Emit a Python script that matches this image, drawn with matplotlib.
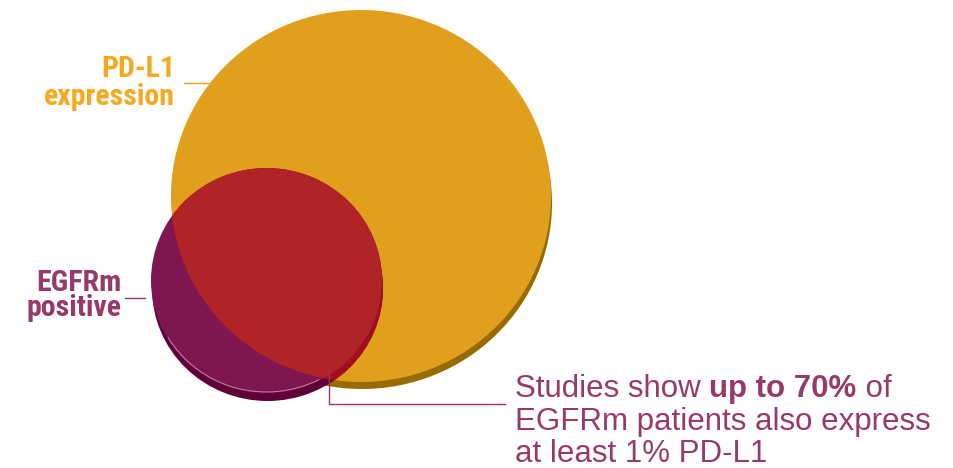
import matplotlib.pyplot as plt
from matplotlib.patches import Ellipse, Arc

# circle sizes / positions (pixel space, y downwards)
big = dict(x=361, y=196, w=380, h=372)
small = dict(x=266.5, y=280.5, w=231, h=225)

label_pdl1 = ['PD-L1', 'expression']
label_egfr = ['EGFRm', 'positive']
note_parts = [('Studies show ', 'normal'), ('up to 70%', 'bold'), (' of', 'normal')]
note_lines = ['EGFRm patients also express', 'at least 1% PD-L1']

orange = '#E09F1C'
orange_sh = '#976B00'
purple = '#7E1650'
purple_sh = '#600038'
red = '#B02427'
red_sh = '#A30C22'
txt_orange = '#F6A81E'
txt_purple = '#973A6B'

narrow = ['Roboto Condensed', 'DejaVu Sans']
sans = ['Liberation Sans', 'DejaVu Sans']

fig = plt.figure(figsize=(9.54, 4.68), dpi=100)
ax = fig.add_axes([0, 0, 1, 1])
ax.set_xlim(0, 954)
ax.set_ylim(468, 0)
ax.axis('off')

## BIG CIRCLE (PD-L1)
ax.add_patch(Ellipse((big['x'] + 1, big['y'] + 7), big['w'], big['h'], color=orange_sh, lw=0))
big_face = Ellipse((big['x'], big['y']), big['w'], big['h'], color=orange, lw=0)
ax.add_patch(big_face)

## SMALL CIRCLE (EGFRm) - shadow then face, red where it overlaps
sh = (small['x'] + 1, small['y'] + 8)
ax.add_patch(Ellipse(sh, small['w'], small['h'], color=purple_sh, lw=0))
p = Ellipse(sh, small['w'], small['h'], color=red_sh, lw=0)
ax.add_patch(p)
p.set_clip_path(big_face)

ax.add_patch(Ellipse((small['x'], small['y']), small['w'], small['h'], color=purple, lw=0))
p = Ellipse((small['x'], small['y']), small['w'], small['h'], color=red, lw=0)
ax.add_patch(p)
p.set_clip_path(big_face)

# faint highlight along the lower rim
ax.add_patch(Arc((small['x'], small['y']), small['w'] - 2, small['h'] - 2,
                 theta1=62, theta2=150, color='#D7A0BC', lw=0.7, alpha=0.8))

## LABELS
for i, s in enumerate(label_pdl1):
    ax.text(175, 77 + 28 * i, s, ha='right', va='baseline', fontsize=21.5,
            fontweight='bold', family=narrow, color=txt_orange)
ax.plot([184, 218], [83, 83], color='#F0A020', lw=1.0)

for i, s in enumerate(label_egfr):
    ax.text(122, 291 + 25 * i, s, ha='right', va='baseline', fontsize=21.5,
            fontweight='bold', family=narrow, color=txt_purple)
ax.plot([125, 145], [298, 298], color=txt_purple, lw=1.0)

# callout
ax.plot([329, 329, 505], [370, 404, 404], color='#A0305F', lw=1.0)

renderer = fig.canvas.get_renderer()
x = 515
for s, w in note_parts:
    t = ax.text(x, 397, s, ha='left', va='baseline', fontsize=22.5,
                fontweight=w, family=sans, color=txt_purple)
    x += t.get_window_extent(renderer).width
for i, s in enumerate(note_lines):
    ax.text(515, 430 + 32 * i, s, ha='left', va='baseline', fontsize=22.5,
            family=sans, color=txt_purple)

fig.savefig('out.png', dpi=100)
